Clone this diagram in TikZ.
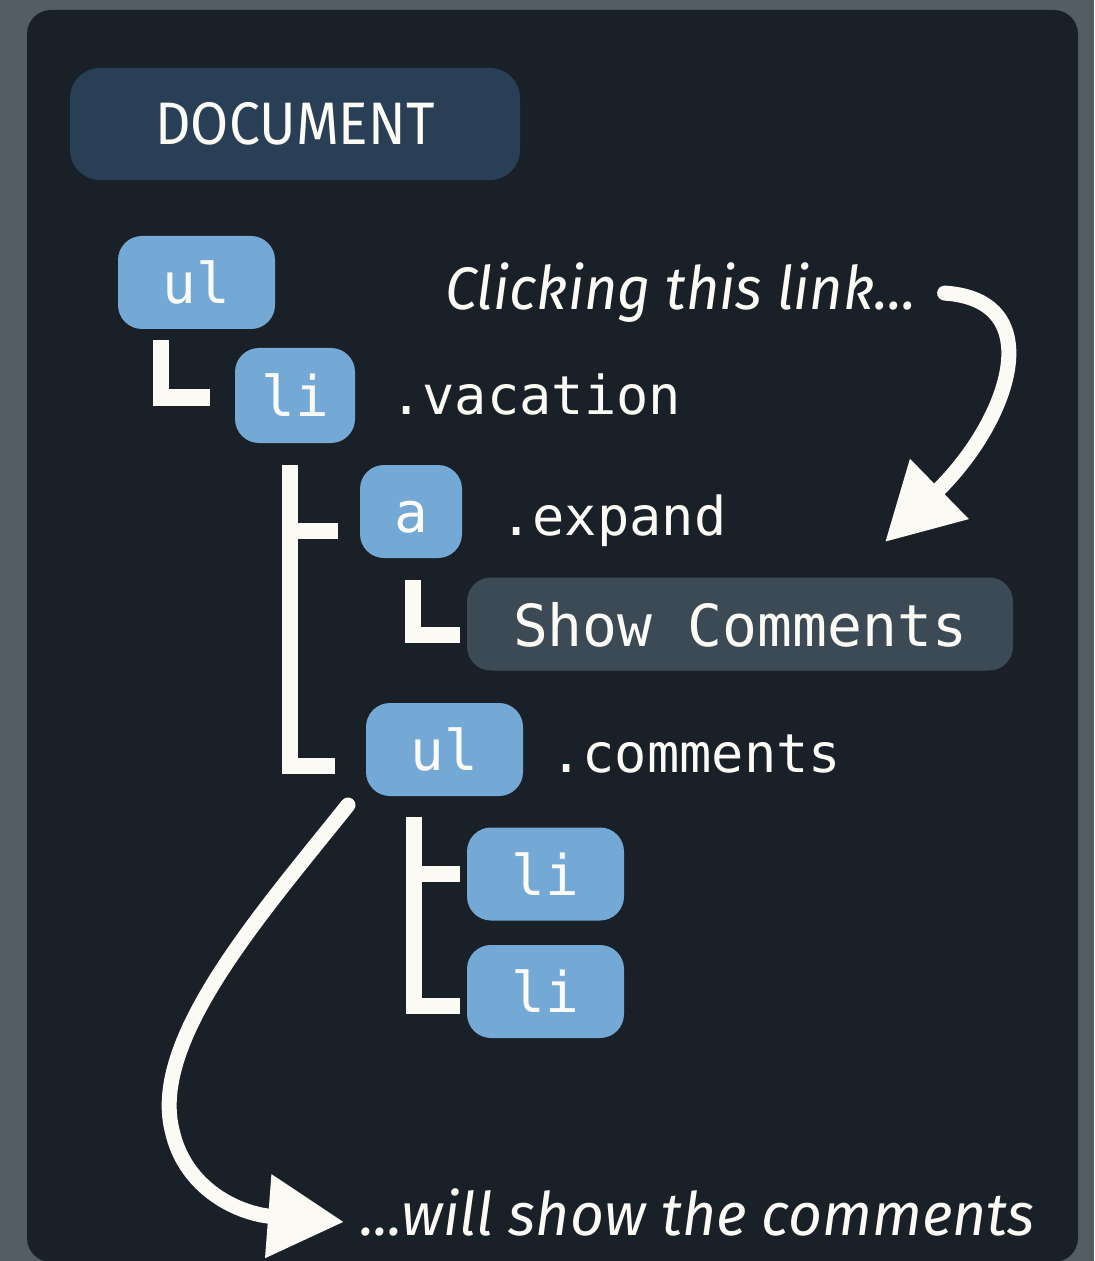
\documentclass[tikz,border=0pt]{standalone}
\usepackage{fontspec}
\usepackage{graphicx}
\setmainfont{Fira Sans}
\newfontfamily\monof{DejaVu Sans Mono}
\usetikzlibrary{arrows.meta}
\definecolor{bgc}{HTML}{525D66}
\definecolor{panelc}{HTML}{1A2028}
\definecolor{docc}{HTML}{283F55}
\definecolor{boxblue}{HTML}{74A8D5}
\definecolor{scgray}{HTML}{3C4A56}
\definecolor{txt}{HTML}{FBFAF5}
\tikzset{
  box/.style={rounded corners=12pt, fill=boxblue, text=txt, inner sep=0pt,
    font=\monof\fontsize{28}{30}\selectfont, text height=21pt, text depth=0pt,
    minimum height=46.5pt},
  cls/.style={anchor=base west, inner sep=0pt, text=txt, font=\monof\fontsize{26.8}{28}\selectfont},
  note/.style={anchor=base west, inner sep=0pt, text=txt, font=\fontsize{30}{32}\selectfont\itshape},
  brush/.style={draw=txt, line width=8pt, line cap=butt},
  bigarrow/.style={draw=txt, line width=7.5pt, line cap=round, -{Triangle[length=38pt,width=40pt]}}
}
\begin{document}
\begin{tikzpicture}[x=0.5pt,y=-0.5pt]
\useasboundingbox (0,0) rectangle (1094,1261);
\fill[bgc] (0,0) rectangle (1094,1261);
\fill[panelc, rounded corners=12pt] (27,10) rectangle (1078,1262);

\node[rounded corners=15pt, fill=docc, text=txt, inner sep=0pt, minimum width=225pt, minimum height=56pt,
  font=\fontsize{30}{32}\selectfont] (doc) at (295,124) {\scalebox{0.92}[1]{DOCUMENT}};

\node[box, minimum width=78.5pt] (ulA) at (196.5,282.5) {ul};
\node[box, minimum width=60pt, minimum height=47.5pt] (liA) at (295,395.5) {li};
\node[box, minimum width=51pt] (aA) at (411,511.5) {a};
\node[box, fill=scgray, minimum width=273pt, text height=22pt, font=\monof\fontsize{29}{31}\selectfont] (sc) at (740,624) {Show Comments};
\node[box, minimum width=78.5pt] (ulB) at (444.5,749.5) {ul};
\node[box, minimum width=78.5pt] (liB) at (545.5,874) {li};
\node[box, minimum width=78.5pt] (liC) at (545.5,991.5) {li};

\node[cls] (tVac) at (390,415) {.vacation};
\node[cls] (tExp) at (500,535) {.expand};
\node[cls] (tCom) at (550,772) {.comments};

\node[note] (tClick) at (445,310) {\scalebox{0.96}[1]{Clicking this link...}};
\node[note] (tWill) at (360,1235) {\scalebox{0.98}[1]{...will show the comments}};

% tree connectors
\draw[brush] ([xshift=-18pt,yshift=-5.5pt]ulA.south) |- ([xshift=-12.5pt,yshift=-1pt]liA.west);

\coordinate (v1) at ([xshift=-2.5pt,yshift=-11pt]liA.south);
\coordinate (aArm) at ([xshift=-11pt,yshift=-9.5pt]aA.west);
\draw[brush] (v1) |- ([xshift=-15.5pt,yshift=-8pt]ulB.west);
\draw[brush] (aArm -| v1) -- (aArm);

\draw[brush] ([xshift=1pt,yshift=-11pt]aA.south) |- ([xshift=-3.5pt,yshift=-5.5pt]sc.west);

\coordinate (v2) at ([xshift=-15.5pt,yshift=-10.5pt]ulB.south);
\coordinate (liBArm) at ([xshift=-3.5pt,yshift=0pt]liB.west);
\draw[brush] (v2) |- ([xshift=-3.5pt,yshift=-7pt]liC.west);
\draw[brush] (liBArm -| v2) -- (liBArm);

% annotation arrows
\coordinate (tipA) at (885,542);
\draw[bigarrow] ([xshift=14pt]tClick.east) .. controls (1050,300) and (1010,420) .. (tipA);

\coordinate (startB) at (348,805);
\draw[bigarrow] (startB) .. controls (260,915) and (150,1040) .. (172,1130)
  .. controls (185,1190) and (240,1214) .. ([xshift=-8pt,yshift=-5pt]tWill.west);
\end{tikzpicture}
\end{document}
